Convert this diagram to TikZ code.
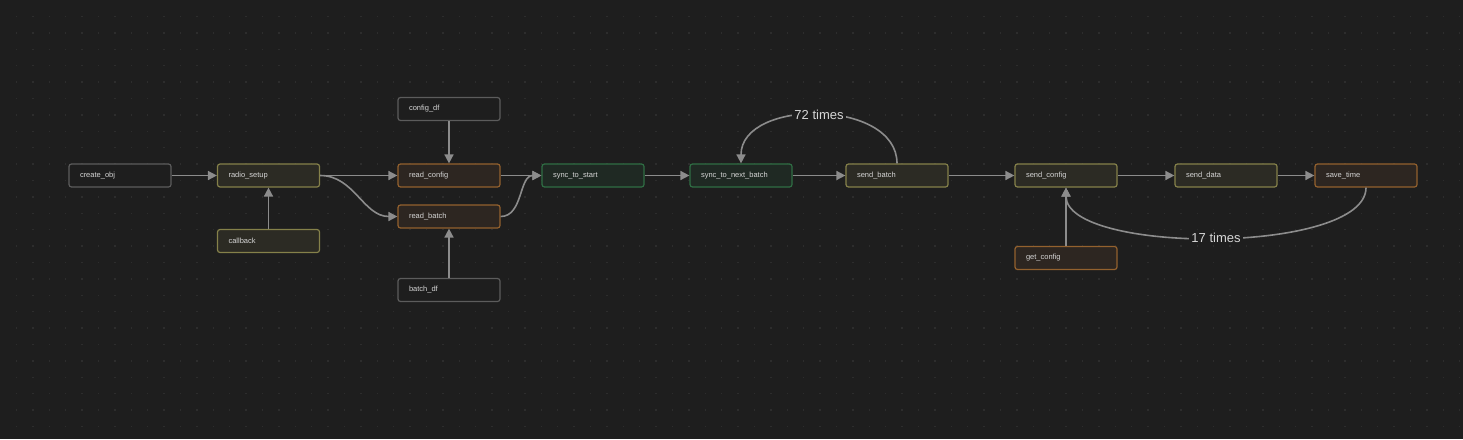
\documentclass[tikz,border=0pt]{standalone}
\usepackage{fontspec}
\setmainfont{Liberation Sans}
\usetikzlibrary{arrows.meta}

\definecolor{bgcol}{HTML}{1E1E1E}
\definecolor{dotcol}{HTML}{2D2D2D}
\definecolor{edgecol}{HTML}{8C8C8C}
\definecolor{txtcol}{HTML}{D6D6D6}
\definecolor{grayline}{HTML}{5C5C5C}
\definecolor{oliveline}{HTML}{85814A}
\definecolor{olivefill}{HTML}{2C2B24}
\definecolor{amberline}{HTML}{93612E}
\definecolor{amberfill}{HTML}{2D2621}
\definecolor{greenline}{HTML}{2F6E44}
\definecolor{greenfill}{HTML}{1F2923}

\begin{document}
\begin{tikzpicture}[x=1pt,y=-1pt,>={Triangle[length=9pt,width=9pt]},line width=1.6pt]
  \tikzset{every box/.style={rectangle,rounded corners=2.5pt,line width=1.2pt,
      minimum height=23pt,text width=80pt,inner xsep=11pt,align=left,
      text=txtcol,font=\fontsize{7.5}{8}\selectfont},
    databox/.style={every box,draw=grayline,fill=bgcol},
    stepbox/.style={every box,draw=oliveline,fill=olivefill},
    readbox/.style={every box,draw=amberline,fill=amberfill},
    syncbox/.style={every box,draw=greenline,fill=greenfill},
    count/.style={fill=bgcol,text=txtcol,inner sep=2pt,font=\fontsize{13}{14}\selectfont}}
  % canvas
  \fill[bgcol] (0,0) rectangle (1463,439);
  \useasboundingbox (0,0) rectangle (1463,439);
  \foreach \i in {0,...,88}
    \foreach \j in {0,...,26}
      \fill[dotcol] (15.8+\i*16.4,15.8+\j*16.4) rectangle ++(1.3,1.3);

  \node[databox] (create_obj) at (120, 175.5) {create\_obj};
  \node[stepbox] (radio_setup) at (268.5, 175.5) {radio\_setup};
  \node[stepbox] (callback) at (268.5, 241) {callback};
  \node[databox] (config_df) at (449, 109) {config\_df};
  \node[readbox] (read_config) at (449, 175.5) {read\_config};
  \node[readbox] (read_batch) at (449, 216.5) {read\_batch};
  \node[databox] (batch_df) at (449, 290) {batch\_df};
  \node[syncbox] (sync_start) at (593, 175.5) {sync\_to\_start};
  \node[syncbox] (sync_next) at (741, 175.5) {sync\_to\_next\_batch};
  \node[stepbox] (send_batch) at (897, 175.5) {send\_batch};
  \node[stepbox] (send_config) at (1066, 175.5) {send\_config};
  \node[readbox] (get_config) at (1066, 258) {get\_config};
  \node[stepbox] (send_data) at (1226, 175.5) {send\_data};
  \node[readbox] (save_time) at (1366, 175.5) {save\_time};

  \begin{scope}[draw=edgecol]
  \path[->] (create_obj) edge (radio_setup);
  \path[->] (callback) edge (radio_setup);
  \path[->] (radio_setup) edge (read_config);
  \path[->] (radio_setup.east) edge[out=0,in=180] (read_batch.west);
  \path[->] (config_df) edge (read_config);
  \path[->] (batch_df) edge (read_batch);
  \path[->] (read_config) edge (sync_start);
  \path[->] (read_batch.east) edge[out=0,in=180] (sync_start.west);
  \path[->] (sync_start) edge (sync_next);
  \path[->] (sync_next) edge (send_batch);
  \path[->] (send_batch) edge (send_config);
  \path[->] (get_config) edge (send_config);
  \path[->] (send_config) edge (send_data);
  \path[->] (send_data) edge (save_time);
  % loops
  \draw[->] (send_batch.north) .. controls +(0,-65) and +(0,-65)
    .. node[count] {72 times} (sync_next.north);
  \draw[->] (save_time.south) .. controls +(0,67) and +(0,67)
    .. node[count] {17 times} (send_config.south);
  \end{scope}
\end{tikzpicture}
\end{document}
